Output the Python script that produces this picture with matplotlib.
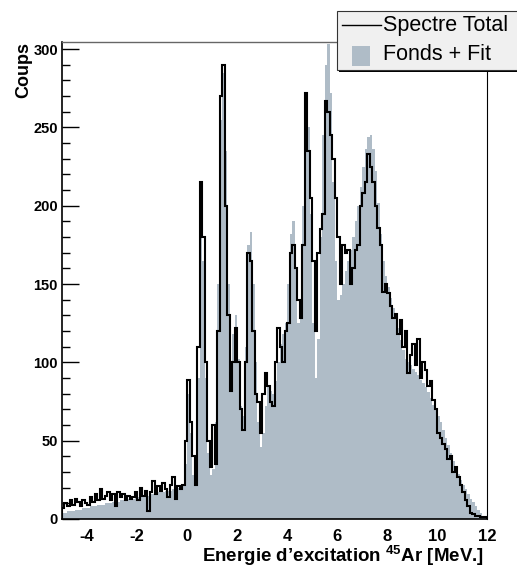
import numpy as np
import matplotlib
matplotlib.use("Agg")
import matplotlib.pyplot as plt
from matplotlib.patches import Rectangle
from matplotlib.lines import Line2D

plt.rcParams['font.family'] = ['Liberation Sans', 'DejaVu Sans']
plt.rcParams['mathtext.fontset'] = 'custom'
plt.rcParams['mathtext.bf'] = 'Liberation Sans:bold'
plt.rcParams['mathtext.rm'] = 'Liberation Sans'
plt.rcParams['axes.unicode_minus'] = False

# 0.1 MeV bins from -5 to 12
E_MIN, E_MAX, N_BINS = -5.0, 12.0, 170

spectre_total = [
    7, 10, 8, 12, 9, 13, 11, 8, 12, 10,
    9, 14, 11, 16, 12, 19, 13, 15, 17, 12,
    16, 8, 17, 14, 16, 12, 15, 13, 14, 17,
    12, 20, 15, 18, 5, 17, 24, 16, 21, 18,
    23, 19, 14, 22, 27, 13, 21, 19, 22, 50,
    89, 62, 40, 22, 110, 215, 180, 100, 50, 33,
    60, 35, 120, 270, 290, 200, 130, 82, 100, 122,
    100, 70, 57, 100, 170, 165, 120, 80, 75, 55,
    80, 93, 85, 75, 72, 100, 122, 110, 100, 120,
    125, 170, 175, 160, 140, 128, 175, 272, 235, 205,
    165, 120, 170, 185, 195, 267, 260, 245, 230, 205,
    180, 150, 175, 170, 172, 150, 160, 172, 175, 200,
    208, 215, 233, 225, 215, 200, 186, 175, 145, 150,
    144, 136, 128, 131, 118, 127, 110, 120, 93, 105,
    112, 98, 115, 90, 100, 95, 85, 88, 76, 70,
    55, 52, 48, 45, 38, 40, 30, 33, 27, 22,
    17, 12, 8, 4, 3, 2, 2, 1, 1, 1,
]

fonds_fit = [
    4, 4, 5, 5, 5, 6, 6, 6, 7, 7,
    7, 8, 8, 8, 9, 9, 9, 10, 10, 10,
    11, 11, 11, 12, 12, 12, 13, 13, 13, 14,
    14, 14, 15, 15, 15, 16, 16, 16, 17, 17,
    17, 18, 18, 18, 19, 19, 20, 20, 21, 35,
    80, 55, 28, 24, 90, 195, 165, 90, 42, 28,
    32, 62, 150, 255, 285, 235, 150, 95, 118, 130,
    102, 72, 66, 110, 175, 183, 150, 100, 62, 46,
    55, 72, 85, 82, 80, 88, 100, 112, 118, 125,
    150, 182, 190, 160, 125, 135, 200, 245, 250, 195,
    125, 90, 115, 180, 245, 290, 303, 272, 215, 165,
    140, 143, 150, 158, 165, 172, 180, 190, 200, 212,
    225, 236, 244, 245, 236, 222, 202, 182, 165, 155,
    148, 141, 135, 129, 122, 114, 108, 102, 100, 98,
    96, 94, 92, 89, 87, 84, 81, 77, 73, 70,
    66, 62, 57, 52, 47, 42, 37, 33, 29, 25,
    22, 19, 16, 13, 11, 8, 6, 4, 2, 1,
]

edges = np.linspace(E_MIN, E_MAX, N_BINS + 1)
FILL_COLOR = '#afbcc7'

W, H = 517, 569
fig = plt.figure(figsize=(W / 100, H / 100), dpi=100)
ax = fig.add_axes([62 / W, 1 - 519 / H, (487 - 62) / W, (519 - 42) / H])

ax.stairs(fonds_fit, edges, fill=True, color=FILL_COLOR, zorder=2)
ax.stairs(spectre_total, edges, color='black', linewidth=1.5, zorder=3)

ax.set_xlim(E_MIN, E_MAX)
ax.set_ylim(0, 304.5)

ax.set_xticks(np.arange(-4, 13, 2))
ax.set_yticks(np.arange(0, 301, 50))
ax.set_yticks(np.arange(0, 301, 10), minor=True)
ax.tick_params(axis='y', which='major', direction='in', length=12, width=1,
               labelsize=10.5, pad=3)
ax.tick_params(axis='y', which='minor', direction='in', length=6, width=1)
ax.tick_params(axis='x', which='both', length=0, labelsize=12, pad=7)
for lab in ax.get_xticklabels() + ax.get_yticklabels():
    lab.set_fontweight('bold')

for side in ['left', 'bottom']:
    ax.spines[side].set_linewidth(1.2)
ax.spines['right'].set_linewidth(0.8)
ax.spines['top'].set_color('#666666')
ax.spines['top'].set_linewidth(1.0)

fig.text(24 / W, 1 - 42 / H, 'Coups', rotation=90, ha='center', va='top',
         fontsize=13, fontweight='bold')
fig.text(484 / W, 1 - 556 / H, r'Energie d’excitation $^{\mathbf{45}}$Ar [MeV.]',
         ha='right', va='center', fontsize=13.5, fontweight='bold')

# legend box in ROOT style
fig.patches.append(Rectangle((339 / W, 1 - 72 / H), 200 / W, 60 / H,
                             transform=fig.transFigure, facecolor='black',
                             edgecolor='none', zorder=5))
fig.patches.append(Rectangle((337 / W, 1 - 70 / H), 200 / W, 59 / H,
                             transform=fig.transFigure, facecolor='#f0f0f0',
                             edgecolor='#333333', linewidth=0.8, zorder=6))
fig.lines.append(Line2D([342 / W, 381 / W], [1 - 25 / H, 1 - 25 / H],
                        transform=fig.transFigure, color='black',
                        linewidth=1.0, zorder=7))
fig.patches.append(Rectangle((352 / W, 1 - 66 / H), 18 / W, 20 / H,
                             transform=fig.transFigure, facecolor=FILL_COLOR,
                             edgecolor='none', zorder=7))
fig.text(383 / W, 1 - 25 / H, 'Spectre Total', ha='left', va='center',
         fontsize=15.5, zorder=8)
fig.text(383 / W, 1 - 55 / H, 'Fonds + Fit', ha='left', va='center',
         fontsize=15.5, zorder=8)

fig.savefig('out.png', dpi=100)
